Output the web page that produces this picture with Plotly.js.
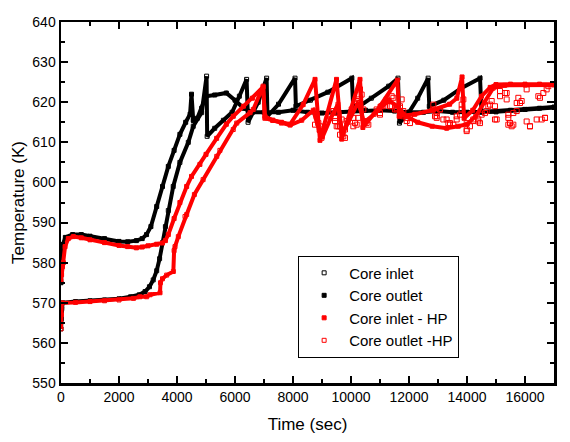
<!DOCTYPE html>
<html>
<head>
<meta charset="utf-8">
<script src="https://cdn.plot.ly/plotly-3.0.1.min.js"></script>
<style>html,body{margin:0;padding:0;background:#fff;}#chart{width:570px;height:442px;}</style>
</head>
<body>
<div id="chart"></div>
<script>
// Core inlet (black, open squares)
const inletT = [0,10,25,50,500,1000,1500,2000,2400,2700,2900,3050,3180,3300,3400,3500,3600,3700,3870,4100,4390,4560,4850,5020,5040,5300,5600,5900,6150,6400,6450,6800,7090,7120,7500,8070,8100,8600,9200,10030,10080,10700,11300,11620,11670,12000,12300,12660,12700,13200,13800,14450,14500,15000,16000,17000];
const inletY = [563.5,566,568.5,570,570.3,570.5,570.7,571,571.5,572,572.8,574,575.7,578,581,585,589,593,599,605,610,614,617.4,626.5,611.5,613.5,615.5,617.5,621.5,625.7,615,620,626,616.5,619.5,626,619,620.5,622.5,626,618,621,624,626,614.8,617.5,621,626,619,620.5,623.5,626,617.5,617.6,618.2,618.7];

// Core outlet (black, filled squares)
const outletT = [0,15,40,150,400,700,1000,1500,2000,2300,2600,2800,2950,3100,3300,3500,3700,3900,4100,4300,4450,4500,4560,4700,4850,5000,5300,5700,6000,6300,6600,7000,7500,8000,8500,9000,9500,10000,10500,11000,11500,12000,12500,13000,13500,14000,14500,15000,15500,16000,16500,17000];
const outletY = [575,581,584,586.3,587,587,586.6,586,585.3,585.2,585.5,586,587,589,594,599,604,608,612,615,617,622,615.5,616,618.5,621.5,621.8,622.3,620.5,618.5,617.5,617.5,617.5,618,617.5,617.3,617.5,617.8,618,618,617.8,617.5,617.5,617.8,617.5,617.5,617.6,617.8,618,618.2,618.5,618.8];

// Core inlet - HP (red, filled squares)
const inletHpT = [0,20,50,80,140,250,425,700,1000,1500,2000,2300,2600,2800,3000,3300,3500,3600,3700,3900,4100,4333,4500,4790,5000,5368,5700,5940,6290,6600,6970,7030,7300,7600,7900,8350,8760,8930,9500,9680,10310,10410,11000,11600,11660,12200,12800,13400,13650,13830,13900,14200,14500,14800,15000,15500,16000,16500,17000];
const inletHpY = [575.5,577,579,580,584,586,586.5,586.2,585.7,585,584.3,584,583.7,583.9,584.2,584.6,584.9,585.5,587,591,595,599,601.5,604.5,607,611,614.5,616.5,619,621,623.8,616.5,615.5,615,614.5,619.4,625.7,610.5,625.7,610.8,625.7,613.7,619,625.5,616.5,617,618,619.5,621,626.3,616,618,621.5,623.7,624.4,624.5,624.5,624.5,624.5];

// Core outlet -HP (red, open squares): main trend
const outletHpT = [0,15,30,500,1000,1500,2000,2500,2720,2954,3070,3414,3430,3500,3644,3874,3900,3931,4046,4276,4333,4600,4900,5370,5480,5940,6060,6520,6630,6970,7030,7300,7600,7900,8300,8700,8900,9000,9300,9550,9700,9900,10250,10450,10800,11300,11600,11900,12300,12800,13300,13700,14000,14300,14600,14900,15300,16000,17000];
const outletHpY = [563.5,567,570,570.1,570.3,570.5,570.7,571.1,571.5,571.5,572,572.5,575,576,576.9,577.8,583,584,586.5,591.5,592,597,600.7,606.5,608,613.2,614.8,617.4,618.2,624,616,615.5,614.8,614.3,615.5,618,613,611,616,619.5,612,615,620,615,617,620.5,619,616.5,615,614,613.5,614,614.5,616.5,620,623.5,624.2,624.3,624.3];

// Core outlet -HP: scattered points
const outletHpScatT = [8759,8816,8817,8874,8931,8931,8989,8989,9390,9391,9448,9448,9506,9563,9563,9621,9621,9678,9736,9793,9793,9851,10023,10080,10080,10138,10195,10195,10253,10253,10310,10310,10368,10425,10483,10540,10598,10885,11000,11000,11057,11115,11230,11287,11345,11402,11402,11460,11517,11575,11575,11690,11690,11747,11805,11805,11920,11920,12034,12034,12839,12839,12897,12954,12954,12954,13069,13069,13184,13299,13356,13414,13414,13529,13644,13644,13759,13816,13816,13874,13989,13989,13989,14103,14218,14218,14390,14390,14448,14506,14621,14678,14736,14793,14851,14965,14965,15023,15138,15138,15310,15368,15368,15425,15425,15425,15483,15483,15540,15598,15598,15713,15713,15770,15828,15885,16057,16057,16172,16172,16402,16460,16517,16575,16632,16690,16690,16747,16805];
const outletHpScatY = [614.4,616.9,616.5,614.8,614.0,613.2,611.5,611.9,617.8,617.8,616.1,615.3,614,617.3,614,614.0,611.9,615.7,611.5,613.2,611.1,615.3,618.2,616.1,614,614.8,614.4,620.3,620.7,616.1,623.2,619.8,621.9,618.2,615.3,614.8,614.4,618.2,617.3,616.9,619,619,620.7,620.3,619,619,621.5,621.1,618.2,618.2,618.6,618.6,619,620.7,617.8,616.5,616.1,615.3,616.5,614.8,619.4,618.2,616.5,617.3,616.5,616.1,618.2,618.2,615.7,615.7,614.8,614.8,614.4,614.4,616.5,615.7,616.9,618.2,619.4,620.7,613.2,612.8,614.8,614,615.7,615.3,615.2,615.7,614.8,616.9,617.3,617.8,619,619.4,620.3,615.7,619,615.7,621.5,622.8,622.3,620.7,622.3,614.4,616.9,616.1,614.8,614.8,614,617.3,614.4,619.8,617.8,621.1,619.8,620.3,623.2,615.2,614.0,614,615.7,621.5,621.1,615.7,622.3,616.1,616.1,623.2,624];

const xTickVals = [0,2000,4000,6000,8000,10000,12000,14000,16000];
const yTickVals = [550,560,570,580,590,600,610,620,630,640];

const FONT = 'Liberation Sans, Arial, sans-serif';

function lineTrace(x, y, color, group) {
  return {x: x, y: y, type: 'scatter', mode: 'lines', line: {color: color, width: 4},
          legendgroup: group, showlegend: false, hoverinfo: 'skip'};
}
function pointTrace(x, y, color, symbol, name, group) {
  return {x: x, y: y, type: 'scatter', mode: 'markers', name: name, legendgroup: group,
          marker: {symbol: symbol, size: 4, color: color, line: {color: color, width: 1}}};
}

const traces = [
  lineTrace(inletT, inletY, '#000000', 'a'),
  pointTrace(inletT, inletY, '#000000', 'square-open', 'Core inlet', 'a'),
  lineTrace(outletT, outletY, '#000000', 'b'),
  pointTrace(outletT, outletY, '#000000', 'square', 'Core outlet', 'b'),
  lineTrace(inletHpT, inletHpY, '#ff0000', 'c'),
  pointTrace(inletHpT, inletHpY, '#ff0000', 'square', 'Core inlet - HP', 'c'),
  lineTrace(outletHpT, outletHpY, '#ff0000', 'd'),
  pointTrace(outletHpT, outletHpY, '#ff0000', 'square-open', 'Core outlet -HP', 'd'),
  {x: outletHpScatT, y: outletHpScatY, type: 'scatter', mode: 'markers', legendgroup: 'd', showlegend: false,
   marker: {symbol: 'square-open', size: 5, color: '#ff0000', line: {color: '#ff0000', width: 1}}}
];

const axisCommon = {
  showline: true, linecolor: '#000', linewidth: 2.5, mirror: 'ticks',
  ticks: 'inside', ticklen: 7, tickwidth: 2, tickcolor: '#000',
  showgrid: false, zeroline: false,
  tickfont: {family: FONT, size: 14, color: '#000'}
};

const layout = {
  width: 570, height: 442,
  margin: {l: 61, r: 16, t: 22, b: 59, pad: 0},
  paper_bgcolor: '#fff', plot_bgcolor: '#fff',
  font: {family: FONT, color: '#000'},
  xaxis: Object.assign({}, axisCommon, {
    range: [0, 17000], tickmode: 'array', tickvals: xTickVals, ticktext: xTickVals.map(String),
    minor: {dtick: 1000, ticks: 'inside', ticklen: 4, tickwidth: 2, tickcolor: '#000', showgrid: false},
    title: {text: 'Time (sec)', font: {family: FONT, size: 17, color: '#000'}, standoff: 14}
  }),
  yaxis: Object.assign({}, axisCommon, {
    range: [550, 640], tickmode: 'array', tickvals: yTickVals, ticktext: yTickVals.map(String),
    minor: {dtick: 5, ticks: 'inside', ticklen: 4, tickwidth: 2, tickcolor: '#000', showgrid: false},
    title: {text: 'Temperature (K)', font: {family: FONT, size: 17, color: '#000'}, standoff: 4}
  }),
  showlegend: true,
  legend: {
    x: 0.481, y: 0.353, xanchor: 'left', yanchor: 'top',
    bgcolor: '#fff', bordercolor: '#000', borderwidth: 1,
    font: {family: FONT, size: 15, color: '#000'},
    itemwidth: 40, traceorder: 'normal', tracegroupgap: 0
  }
};

Plotly.newPlot('chart', traces, layout, {displayModeBar: false, staticPlot: true});
</script>
</body>
</html>
